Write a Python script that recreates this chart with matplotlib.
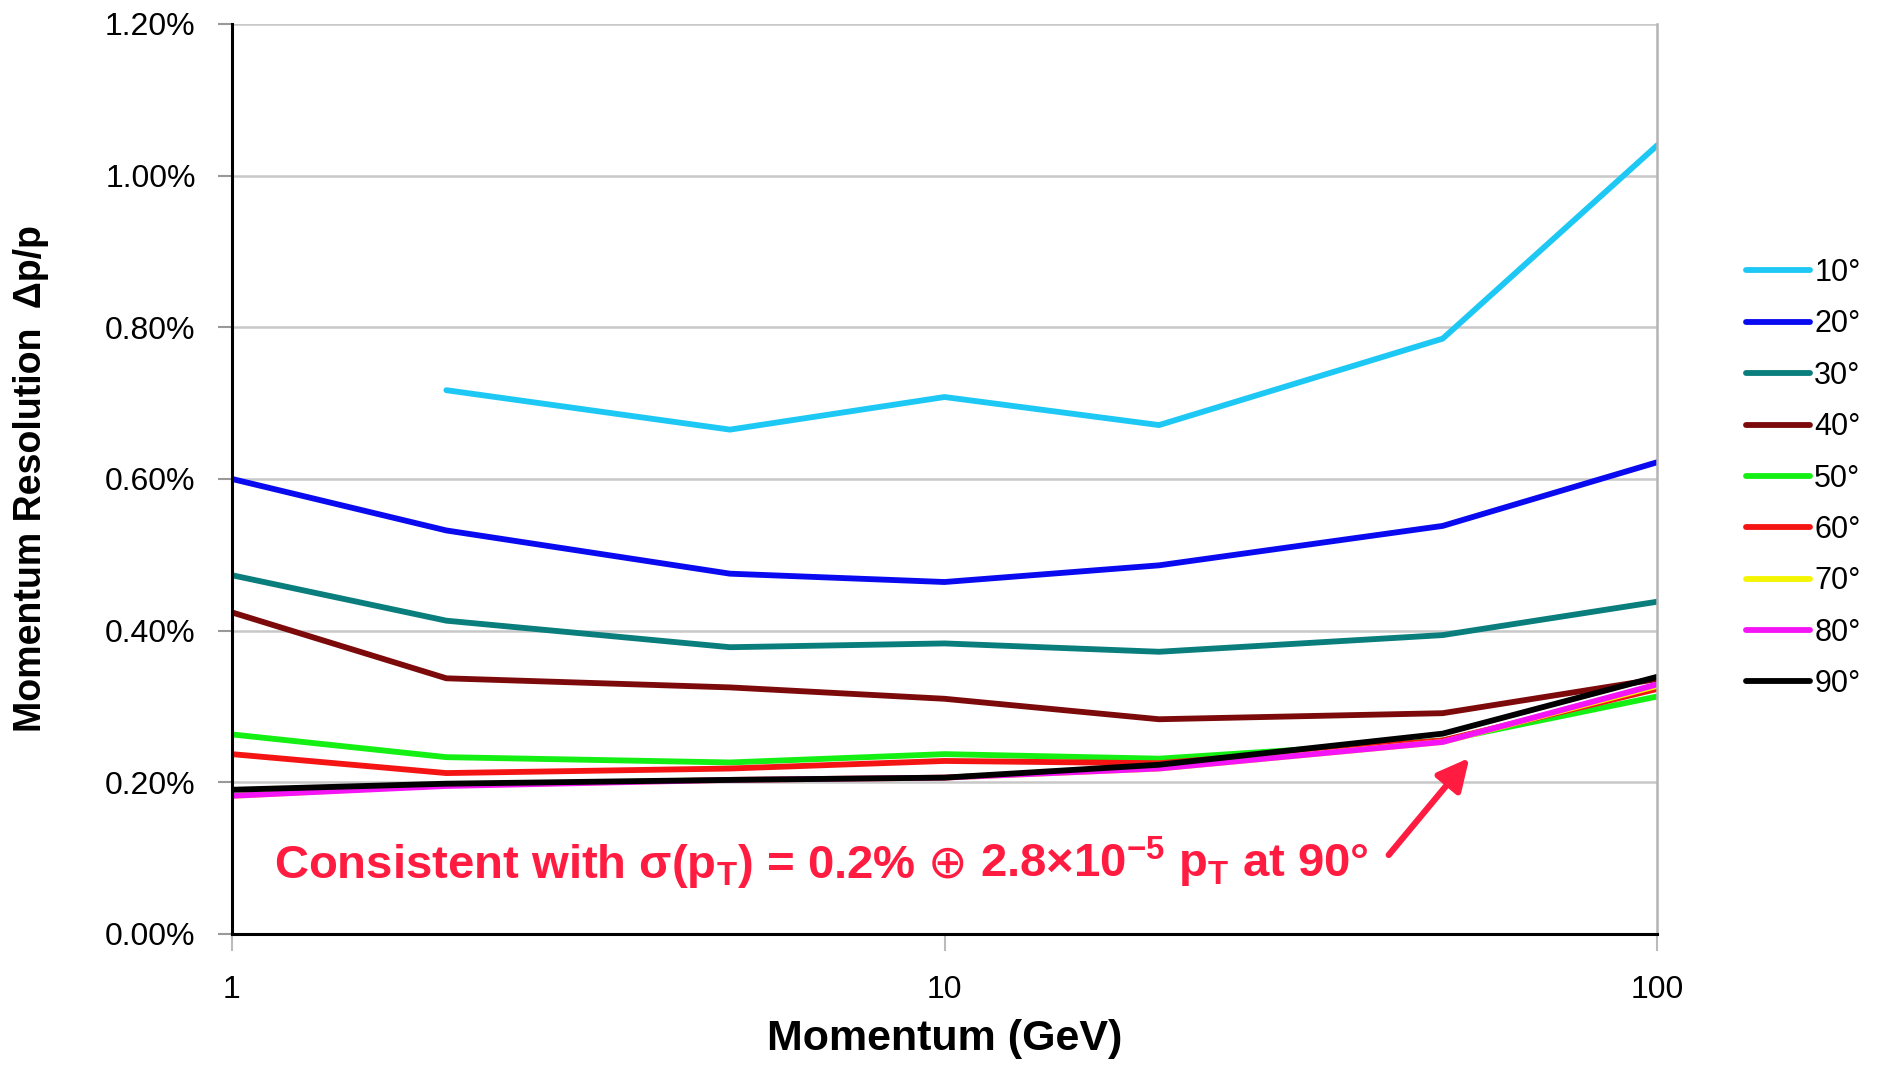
import matplotlib
matplotlib.use("Agg")
import matplotlib.pyplot as plt
from matplotlib import rcParams
from matplotlib.ticker import FuncFormatter, FixedLocator, NullLocator

config = {"font.family": ['Liberation Sans', 'DejaVu Sans'],
          "mathtext.fontset": 'custom',
          "mathtext.rm": 'Liberation Sans:bold',
          "mathtext.it": 'Liberation Sans:bold',
          "mathtext.bf": 'Liberation Sans:bold'}
rcParams.update(config)

# momentum points (GeV)
momentum = [1, 2, 5, 10, 20, 50, 100]
# resolution in percent, one list per polar angle
res_10 = [None, 0.717, 0.665, 0.708, 0.671, 0.785, 1.040]
res_20 = [0.600, 0.532, 0.475, 0.464, 0.486, 0.538, 0.622]
res_30 = [0.473, 0.413, 0.378, 0.383, 0.372, 0.394, 0.438]
res_40 = [0.424, 0.337, 0.325, 0.310, 0.283, 0.291, 0.336]
res_50 = [0.263, 0.233, 0.226, 0.237, 0.231, 0.255, 0.313]
res_60 = [0.237, 0.212, 0.218, 0.228, 0.225, 0.255, 0.323]
res_70 = [0.182, 0.196, 0.203, 0.206, 0.218, 0.253, 0.327]
res_80 = [0.182, 0.195, 0.203, 0.206, 0.218, 0.253, 0.329]
res_90 = [0.190, 0.198, 0.203, 0.206, 0.223, 0.264, 0.339]

angles = ['10°', '20°', '30°', '40°', '50°', '60°', '70°', '80°', '90°']
series = [res_10, res_20, res_30, res_40, res_50, res_60, res_70, res_80, res_90]
colors = ['#1EC8F5', '#0A0AF0', '#0A7D7D', '#7D0A0A', '#14F014',
          '#F51414', '#F5F500', '#F514F5', '#000000']
yticks = [0.0, 0.2, 0.4, 0.6, 0.8, 1.0, 1.2]
xticks = [1, 10, 100]

red = '#FF1C40'

fig = plt.figure(figsize=(18.83, 10.66), dpi=100)
ax = fig.add_axes([0.1231, 0.124, 0.757, 0.8535])

for lab, ys, c in zip(angles, series, colors):
    xs = [m for m, v in zip(momentum, ys) if v is not None]
    vs = [v for v in ys if v is not None]
    ax.plot(xs, vs, color=c, lw=4.2, label=lab, solid_capstyle='round')

ax.set_xscale('log')
ax.set_xlim(1, 100)
ax.set_ylim(0, 1.2)
ax.xaxis.set_major_locator(FixedLocator(xticks))
ax.xaxis.set_minor_locator(NullLocator())
ax.xaxis.set_major_formatter(FuncFormatter(lambda v, p: '%d' % v))
ax.yaxis.set_major_locator(FixedLocator(yticks))
ax.yaxis.set_major_formatter(FuncFormatter(lambda v, p: '%.2f%%' % v))
ax.grid(axis='y', color='#C8C8C8', lw=1.8)
ax.set_axisbelow(True)

ax.spines['top'].set_visible(False)
ax.spines['right'].set_color('#B4B4B4')
ax.spines['right'].set_linewidth(1.8)
ax.spines['left'].set_linewidth(2.2)
ax.spines['bottom'].set_linewidth(2.2)
ax.tick_params(axis='y', direction='out', length=10, width=1.5,
               color='#999999', labelsize=23, pad=16)
ax.tick_params(axis='x', direction='out', length=12, width=1.5,
               color='#BBBBBB', labelsize=23, pad=18)

ax.set_xlabel('Momentum (GeV)', fontsize=31, fontweight='bold', labelpad=10)
ax.set_ylabel('Momentum Resolution  Δp/p', fontsize=27, fontweight='bold')
ax.yaxis.set_label_coords(-0.128, 0.5)

# red annotation, built from three pieces so the circled plus can be larger
base_y = 0.074
t1 = ax.text(1.146, base_y,
             r'Consistent with $\sigma$(p$_\mathregular{T}$) = 0.2%',
             color=red, fontsize=34, fontweight='bold',
             va='baseline', ha='left')
t2 = ax.annotate('⊕', xy=(1, base_y), xycoords=(t1, 'data'),
                 xytext=(9, 0), textcoords='offset points',
                 color=red, fontsize=34, family='DejaVu Sans',
                 va='baseline', ha='left')
t3 = ax.annotate(r'2.8$\times$10$^\mathregular{-5}$ p$_\mathregular{T}$ at 90°',
                 xy=(1, base_y), xycoords=(t2, 'data'),
                 xytext=(9, 0), textcoords='offset points',
                 color=red, fontsize=34, fontweight='bold',
                 va='baseline', ha='left')
ax.annotate('', xy=(54.5, 0.232), xytext=(42.0, 0.104),
            arrowprops=dict(arrowstyle='-|>', color=red, lw=4.5,
                            mutation_scale=48, shrinkA=0, shrinkB=0))

fig.legend(loc='center left', bbox_to_anchor=(0.927, 0.551), frameon=False,
           fontsize=22, handlelength=2.1, handletextpad=0.15,
           labelspacing=0.7, borderpad=0, borderaxespad=0)

fig.savefig('out.png', dpi=100)
